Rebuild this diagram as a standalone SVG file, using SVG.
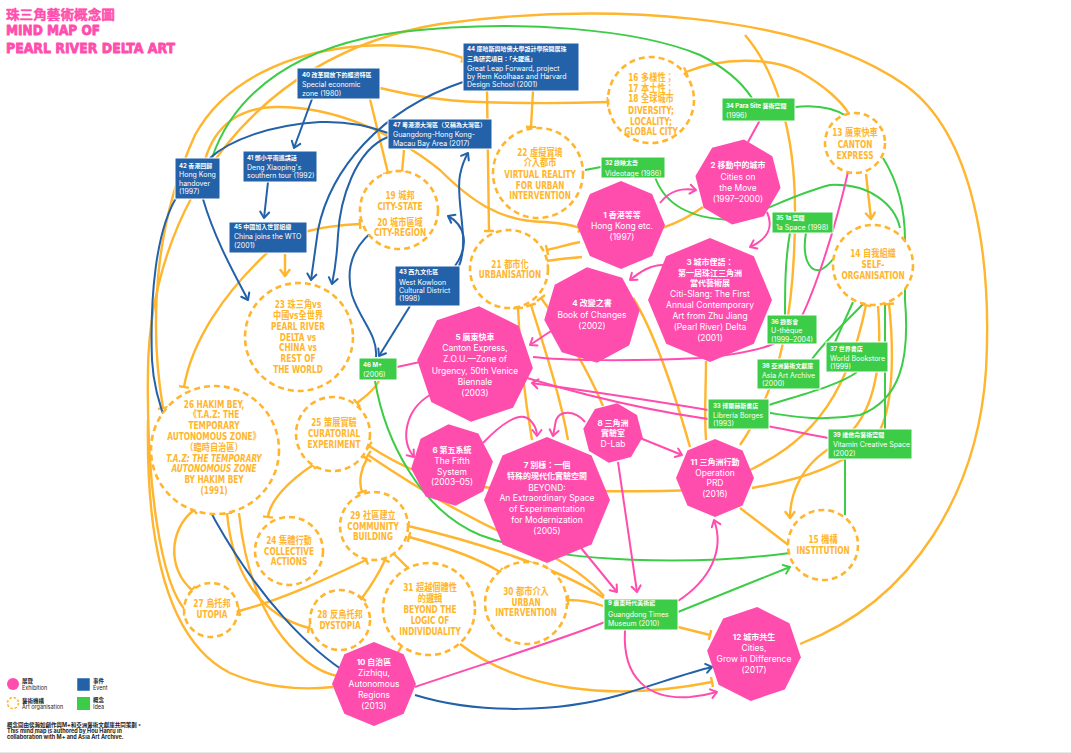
<svg xmlns="http://www.w3.org/2000/svg" width="1071" height="753" viewBox="0 0 1071 753">
<style>
.o{fill:none;stroke:#FFB52E;stroke-width:2.4}
.p{fill:none;stroke:#FF4DAE;stroke-width:2}
.b{fill:none;stroke:#2361A8;stroke-width:2}
.g{fill:none;stroke:#3DCC47;stroke-width:2}
.oc{fill:#fff;stroke:#FFB52E;stroke-width:2.6;stroke-dasharray:6 4}
.hx{fill:#FF4DAE}
.bb{fill:#2361A8;stroke:#fff;stroke-width:1}
.gb{fill:#3DCC47;stroke:#fff;stroke-width:1}
.pt{font-family:'Inter','Noto Sans CJK TC',sans-serif;font-size:8.5px;fill:#fff;text-anchor:middle}
.pt .h{font-size:8px;font-weight:bold}
.ot{font-family:'DejaVu Sans Condensed','DejaVu Sans','Noto Sans CJK TC',sans-serif;font-stretch:condensed;font-weight:bold;font-size:10px;fill:#FFB52E;text-anchor:middle}
.bt{font-family:'Inter','Noto Sans CJK TC',sans-serif;font-size:7px;fill:#fff}
.bt .h{font-size:6px;font-weight:bold}
.lg{font-family:'Inter','Noto Sans CJK TC',sans-serif;font-size:5.5px;fill:#222}
</style>
<defs>
<polygon id="oct" points="0,-1 0.707,-0.707 1,0 0.707,0.707 0,1 -0.707,0.707 -1,0 -0.707,-0.707"/>
<marker id="tb" viewBox="-2 -6 4 12" markerWidth="4" markerHeight="12" orient="auto" markerUnits="userSpaceOnUse"><path d="M0,-5V5" stroke="#FFB52E" stroke-width="2.4"/></marker>
<marker id="ao" viewBox="-8 -6 10 12" markerWidth="10" markerHeight="12" orient="auto" markerUnits="userSpaceOnUse"><path d="M-6,-4.5L0,0L-6,4.5" fill="none" stroke="#FFB52E" stroke-width="2.4" stroke-linecap="round" stroke-linejoin="round"/></marker>
<marker id="ap" viewBox="-8 -6 10 12" markerWidth="10" markerHeight="12" orient="auto" markerUnits="userSpaceOnUse"><path d="M-6,-4.5L0,0L-6,4.5" fill="none" stroke="#FF4DAE" stroke-width="2" stroke-linecap="round" stroke-linejoin="round"/></marker>
<marker id="ab" viewBox="-8 -6 10 12" markerWidth="10" markerHeight="12" orient="auto" markerUnits="userSpaceOnUse"><path d="M-6,-4.5L0,0L-6,4.5" fill="none" stroke="#2361A8" stroke-width="2" stroke-linecap="round" stroke-linejoin="round"/></marker>
<marker id="ag" viewBox="-8 -6 10 12" markerWidth="10" markerHeight="12" orient="auto" markerUnits="userSpaceOnUse"><path d="M-6,-4.5L0,0L-6,4.5" fill="none" stroke="#3DCC47" stroke-width="2" stroke-linecap="round" stroke-linejoin="round"/></marker>
</defs>
<rect width="1071" height="753" fill="#fff"/>
<line x1="0" y1="752.5" x2="1071" y2="752.5" stroke="#e8e8e8" stroke-width="1"/>

<g id="title" font-family="'DejaVu Sans Condensed','DejaVu Sans',sans-serif" font-weight="bold" fill="#FF4DAE" stroke="#FF4DAE" stroke-linejoin="round">
<text x="6" y="18.5" font-size="13" stroke-width="0.4" font-family="'Noto Sans CJK TC',sans-serif" textLength="109" lengthAdjust="spacingAndGlyphs">珠三角藝術概念圖</text>
<text x="6" y="35" font-size="14.5" stroke-width="0.8" textLength="94" lengthAdjust="spacingAndGlyphs">MIND MAP OF</text>
<text x="6" y="53" font-size="14.5" stroke-width="0.8" textLength="169" lengthAdjust="spacingAndGlyphs">PEARL RIVER DELTA ART</text>
</g>

<g id="connectors">
<g id="orange">
<path class="o" marker-start="url(#tb)" d="M187,612 C160,585 146,480 148,370 C150,210 250,55 440,24 C600,2 800,12 905,85 C975,135 992,260 986,370 C978,490 915,600 800,644"/>
<path class="o" d="M148,420 C146,540 165,640 230,673 C270,690 305,690 333,687"/>
<path class="o" marker-start="url(#tb)" marker-end="url(#tb)" d="M163,408 C150,330 152,230 195,135 C225,80 290,52 360,46 C410,43 440,50 463,58"/>
<path class="o" marker-end="url(#tb)" d="M205,160 C215,125 240,108 275,107 C330,106 390,130 440,170 C470,200 500,222 545,222 C560,223 572,225 580,228"/>
<path class="o" marker-start="url(#tb)" marker-end="url(#tb)" d="M360,224 C320,226 290,232 268,252 C225,292 192,340 184,387"/>
<path class="o" marker-end="url(#ao)" d="M285,254 L285,276"/>
<path class="o" marker-end="url(#tb)" d="M370,99 L388,173"/>
<path class="o" marker-end="url(#tb)" d="M404,150 L402,172"/>
<path class="o" marker-end="url(#tb)" d="M533,91 L531,127"/>
<path class="o" marker-end="url(#tb)" d="M487,91 L489,231"/>
<path class="o" marker-end="url(#tb)" d="M380,88 C410,95 440,101 480,102 C540,104 580,103 608,102"/>
<path class="o" marker-start="url(#tb)" d="M686,72 C720,58 770,56 800,72 C825,86 842,102 849,114"/>
<path class="o" d="M745,35 C775,70 795,130 795,210 C795,300 785,380 740,445"/>
<path class="o" marker-end="url(#ao)" d="M866,174 L871,219"/>
<path class="o" marker-start="url(#tb)" d="M547,250 C560,247 570,244 580,242"/>
<path class="o" marker-start="url(#tb)" d="M546,261 C560,259 570,258 582,257"/>
<path class="o" marker-start="url(#tb)" d="M518,308 C520,360 525,400 532,440"/>
<path class="o" marker-start="url(#tb)" d="M531,305 C545,350 560,395 568,440"/>
<path class="o" marker-start="url(#tb)" d="M541,298 C565,330 590,375 603,406"/>
<path class="o" d="M633,298 C650,325 668,370 690,447"/>
<path class="o" marker-start="url(#tb)" d="M369,446 C400,466 430,480 470,486 C530,492 640,492 700,490"/>
<path class="o" marker-end="url(#tb)" d="M750,470 C800,445 845,410 866,305"/>
<path class="o" marker-end="url(#tb)" d="M752,488 C800,480 850,465 880,430 C895,400 893,340 889,304"/>
<path class="o" marker-end="url(#ao)" d="M878,306 C884,380 868,425 835,445 C800,465 790,495 790,518"/>
<path class="o" marker-end="url(#tb)" d="M740,508 L791,547"/>
<path class="o" marker-end="url(#tb)" d="M678,627 L710,635"/>
<path class="o" marker-end="url(#tb)" d="M460,644 C520,690 610,702 712,682"/>
<path class="o" marker-end="url(#tb)" d="M603,606 C590,601 580,600 568,600"/>
<path class="o" marker-start="url(#tb)" d="M408,526 C470,540 560,568 604,598"/>
<path class="o" marker-start="url(#tb)" marker-end="url(#tb)" d="M409,537 C450,548 478,558 500,572"/>
<path class="o" marker-start="url(#tb)" marker-end="url(#tb)" d="M393,553 L411,571"/>
<path class="o" marker-start="url(#tb)" marker-end="url(#tb)" d="M385,560 C378,575 368,590 362,598"/>
<path class="o" marker-start="url(#tb)" marker-end="url(#tb)" d="M366,560 C320,582 280,600 239,611"/>
<path class="o" marker-start="url(#tb)" marker-end="url(#tb)" d="M362,492 C358,480 362,467 367,459"/>
<path class="o" marker-start="url(#tb)" marker-end="url(#tb)" d="M313,465 C290,480 270,500 268,517"/>
<path class="o" marker-start="url(#tb)" marker-end="url(#tb)" d="M194,510 C168,530 168,570 192,590"/>
<path class="o" marker-start="url(#tb)" marker-end="url(#tb)" d="M227,513 C232,570 258,615 309,628"/>
<path class="o" d="M239,513 C246,580 268,630 305,660 C340,688 382,680 402,646"/>
<path class="o" marker-start="url(#tb)" d="M368,455 C420,490 470,520 540,550 C570,565 590,580 604,596"/>
<path class="o" marker-end="url(#tb)" d="M379,381 C373,392 363,398 357,403"/>
<path class="o" d="M662,228 C680,222 692,215 703,207"/>
<path class="o" d="M706,361 C706,390 704,412 706,440"/>
</g>
<g id="green">
<path class="g" d="M212,158 C235,90 300,45 400,32 C520,18 640,30 700,55 C720,65 740,80 752,98"/>
<path class="g" d="M795,107 C815,105 835,108 848,117"/>
<path class="g" d="M883,158 C900,185 905,215 905,240 L905,300 C910,360 900,400 860,415 C820,422 790,416 770,413"/>
<path class="g" d="M655,177 C665,205 690,218 730,220 C760,215 790,195 830,185 C870,183 895,205 900,228"/>
<path class="g" d="M601,167 L585,170"/>
<path class="g" d="M806,233 C802,255 808,272 820,270 C826,268 830,263 834,258"/>
<path class="g" d="M790,233 C785,260 785,290 785,315"/>
<path class="g" d="M835,342 L853,302"/>
<path class="g" d="M812,359 C830,335 850,318 863,304"/>
<path class="g" d="M769,405 C800,395 840,385 857,372"/>
<path class="g" d="M885,429 L885,305"/>
<path class="g" d="M845,459 L845,515"/>
<path class="g" d="M375,381 C385,440 420,510 480,535 C560,565 700,565 790,553"/>
<path class="g" marker-end="url(#ag)" d="M678,612 L790,567"/>
</g>
<g id="blue">
<path class="b" marker-end="url(#ab)" d="M312,99 L294,148"/>
<path class="b" marker-end="url(#ab)" d="M268,182 L264,218"/>
<path class="b" marker-end="url(#ab)" d="M203,199 C215,240 235,275 248,300"/>
<path class="b" marker-end="url(#ab)" d="M463,82 C380,110 330,170 318,230 L311,280"/>
<path class="b" marker-end="url(#ab)" d="M388,137 C355,150 340,200 338,235 C337,255 335,270 332,284"/>
<path class="b" d="M210,158 C230,140 270,125 320,122 C350,121 375,128 388,133"/>
<path class="b" d="M178,195 C155,230 150,300 152,360 C155,420 190,470 215,520 C260,600 310,650 350,675"/>
<path class="b" marker-end="url(#ab)" d="M415,695 C480,715 560,712 620,695 C660,683 690,672 712,667"/>
<path class="b" marker-end="url(#ab)" d="M410,306 L379,356"/>
<path class="b" marker-end="url(#ab)" d="M455,266 C470,245 465,225 448,216"/>
<path class="b" marker-end="url(#ab)" d="M459,266 C470,240 455,200 460,175 C462,165 465,158 468,153"/>
<path class="b" d="M380,225 C360,240 343,260 352,295 C360,320 378,335 376,357"/>
</g>
<g id="pink">
<path class="p" marker-end="url(#ap)" d="M660,203 C670,190 682,188 696,190"/>
<path class="p" marker-end="url(#ap)" d="M767,212 C775,230 765,240 750,247"/>
<path class="p" marker-end="url(#ap)" d="M663,265 C650,265 640,272 630,280"/>
<path class="p" marker-end="url(#ap)" d="M551,331 L530,345"/>
<path class="p" marker-end="url(#ap)" d="M430,395 C405,410 400,440 414,457"/>
<path class="p" marker-end="url(#ap)" d="M483,443 C500,425 520,410 530,420 C536,426 537,432 537,436"/>
<path class="p" marker-end="url(#ap)" d="M585,422 C575,410 560,410 556,420 L553,436"/>
<path class="p" marker-end="url(#ap)" d="M640,438 L682,455"/>
<path class="p" marker-end="url(#ap)" d="M618,462 L637,592"/>
<path class="p" marker-end="url(#ap)" d="M577,543 L617,592"/>
<path class="p" marker-end="url(#ap)" d="M678,601 C710,580 725,550 714,520"/>
<path class="p" marker-end="url(#ap)" d="M625,630 C622,680 650,700 690,697 C700,696 710,694 717,692"/>
<path class="p" d="M415,687 C480,665 560,640 605,622"/>
<path class="p" marker-end="url(#ap)" d="M708,410 C650,400 580,390 532,383"/>
<path class="p" d="M527,378 C600,400 680,418 760,425 C790,430 810,435 828,438"/>
<path class="p" d="M848,172 C835,230 815,290 800,320 C790,340 770,352 700,358 C620,362 560,360 533,357"/>
<path class="p" d="M397,367 L420,362"/>
<path class="p" d="M760,120 L748,142"/>
</g>
</g>

<g id="exhibitions">
<g id="n1"><use href="#oct" class="hx" transform="translate(621,225) scale(44)"/><text class="pt"><tspan class="h" x="622" y="218">1 香港等等</tspan><tspan x="622" y="229">Hong Kong etc.</tspan><tspan x="622" y="240">(1997)</tspan></text></g>
<g id="n2"><use href="#oct" class="hx" transform="translate(738,182) rotate(8) scale(43)"/><text class="pt"><tspan class="h" x="738" y="168">2 移動中的城市</tspan><tspan x="738" y="180">Cities on</tspan><tspan x="738" y="191">the Move</tspan><tspan x="738" y="201.5">(1997–2000)</tspan></text></g>
<g id="n3"><use href="#oct" class="hx" transform="translate(710,300) scale(62)"/><text class="pt"><tspan class="h" x="710" y="265">3 城市俚語：</tspan><tspan class="h" x="710" y="275.5">第一屆珠江三角洲</tspan><tspan class="h" x="710" y="286">當代藝術展</tspan><tspan x="710" y="297">Citi-Slang: The First</tspan><tspan x="710" y="308">Annual Contemporary</tspan><tspan x="710" y="319">Art from Zhu Jiang</tspan><tspan x="710" y="330">(Pearl River) Delta</tspan><tspan x="710" y="340.5">(2001)</tspan></text></g>
<g id="n4"><use href="#oct" class="hx" transform="translate(592,315) rotate(-6) scale(48)"/><text class="pt"><tspan class="h" x="592" y="306">4 改變之書</tspan><tspan x="592" y="318">Book of Changes</tspan><tspan x="592" y="329">(2002)</tspan></text></g>
<g id="n5"><use href="#oct" class="hx" transform="translate(475,364) rotate(4) scale(58)"/><text class="pt"><tspan class="h" x="475" y="340">5 廣東快車</tspan><tspan x="475" y="351">Canton Express,</tspan><tspan x="475" y="362">Z.O.U.—Zone of</tspan><tspan x="475" y="374">Urgency, 50th Venice</tspan><tspan x="475" y="385">Biennale</tspan><tspan x="475" y="396">(2003)</tspan></text></g>
<g id="n6"><use href="#oct" class="hx" transform="translate(452,465) rotate(-5) scale(41)"/><text class="pt"><tspan class="h" x="452" y="453">6 第五系統</tspan><tspan x="452" y="464">The Fifth</tspan><tspan x="452" y="475">System</tspan><tspan x="452" y="485">(2003–05)</tspan></text></g>
<g id="n7"><use href="#oct" class="hx" transform="translate(547,500) scale(63)"/><text class="pt"><tspan class="h" x="547" y="468">7 別樣：一個</tspan><tspan class="h" x="547" y="479">特殊的現代化實驗空間</tspan><tspan x="547" y="491">BEYOND:</tspan><tspan x="547" y="501">An Extraordinary Space</tspan><tspan x="547" y="512">of Experimentation</tspan><tspan x="547" y="523">for Modernization</tspan><tspan x="547" y="534">(2005)</tspan></text></g>
<g id="n8"><use href="#oct" class="hx" transform="translate(613,433) rotate(8) scale(30)"/><text class="pt"><tspan class="h" x="613" y="426">8 三角洲</tspan><tspan class="h" x="613" y="436">實驗室</tspan><tspan x="613" y="447">D-Lab</tspan></text></g>
<g id="n11"><use href="#oct" class="hx" transform="translate(715,478) scale(39)"/><text class="pt"><tspan class="h" x="715" y="465">11 三角洲行動</tspan><tspan x="715" y="476">Operation</tspan><tspan x="715" y="486">PRD</tspan><tspan x="715" y="497">(2016)</tspan></text></g>
<g id="n10"><use href="#oct" class="hx" transform="translate(374,684) scale(42)"/><text class="pt"><tspan class="h" x="374" y="665">10 自治區</tspan><tspan x="374" y="676">Zizhiqu,</tspan><tspan x="374" y="687">Autonomous</tspan><tspan x="374" y="698">Regions</tspan><tspan x="374" y="709">(2013)</tspan></text></g>
<g id="n12"><use href="#oct" class="hx" transform="translate(754,654) rotate(4) scale(47)"/><text class="pt"><tspan class="h" x="754" y="640">12 城市共生</tspan><tspan x="754" y="651">Cities,</tspan><tspan x="754" y="662">Grow in Difference</tspan><tspan x="754" y="673">(2017)</tspan></text></g>
</g>

<g id="ideas">
<g id="n13"><circle class="oc" cx="855" cy="143" r="30"/><text class="ot" transform="translate(855,0) scale(0.82,1)"><tspan x="0" y="136.5">13 廣東快車</tspan><tspan x="0" y="148.5">CANTON</tspan><tspan x="0" y="159.5">EXPRESS</tspan></text></g>
<g id="n14"><circle class="oc" cx="873" cy="265" r="40"/><text class="ot" transform="translate(873,0) scale(0.82,1)"><tspan x="0" y="257.5">14 自我組織</tspan><tspan x="0" y="268.5">SELF-</tspan><tspan x="0" y="279.5">ORGANISATION</tspan></text></g>
<g id="n15"><circle class="oc" cx="823" cy="545" r="35"/><text class="ot" transform="translate(823,0) scale(0.82,1)"><tspan x="0" y="543.5">15 機構</tspan><tspan x="0" y="554.5">INSTITUTION</tspan></text></g>
<g id="n16"><circle class="oc" cx="651" cy="100" r="43"/><text class="ot" transform="translate(651,0) scale(0.82,1)"><tspan x="0" y="81.5">16 多樣性；</tspan><tspan x="0" y="92.5">17 本土性；</tspan><tspan x="0" y="102.5">18 全球城市</tspan><tspan x="0" y="114.5">DIVERSITY;</tspan><tspan x="0" y="125.5">LOCALITY;</tspan><tspan x="0" y="135.5">GLOBAL CITY</tspan></text></g>
<g id="n19"><circle class="oc" cx="399" cy="210" r="39"/><text class="ot" transform="translate(400,0) scale(0.82,1)"><tspan x="0" y="199.5">19 城邦</tspan><tspan x="0" y="210.5">CITY-STATE</tspan><tspan x="0" y="226.5">20 城市區域</tspan><tspan x="0" y="236.5">CITY-REGION</tspan></text></g>
<g id="n21"><circle class="oc" cx="509" cy="269" r="39"/><text class="ot" transform="translate(510,0) scale(0.82,1)"><tspan x="0" y="268.5">21 都市化</tspan><tspan x="0" y="278.5">URBANISATION</tspan></text></g>
<g id="n22"><circle class="oc" cx="538" cy="173" r="45"/><text class="ot" transform="translate(540,0) scale(0.82,1)"><tspan x="0" y="156.5">22 虛擬實境</tspan><tspan x="0" y="166.5">介入都市</tspan><tspan x="0" y="178.5">VIRTUAL REALITY</tspan><tspan x="0" y="189.5">FOR URBAN</tspan><tspan x="0" y="199.5">INTERVENTION</tspan></text></g>
<g id="n23"><circle class="oc" cx="299" cy="337" r="54"/><text class="ot" transform="translate(298,0) scale(0.82,1)"><tspan x="0" y="308.5">23 珠三角vs</tspan><tspan x="0" y="319.5">中國vs全世界</tspan><tspan x="0" y="330.5">PEARL RIVER</tspan><tspan x="0" y="341.5">DELTA vs</tspan><tspan x="0" y="351.5">CHINA vs</tspan><tspan x="0" y="362.5">REST OF</tspan><tspan x="0" y="373.5">THE WORLD</tspan></text></g>
<g id="n24"><circle class="oc" cx="289" cy="551" r="34"/><text class="ot" transform="translate(289,0) scale(0.82,1)"><tspan x="0" y="544.5">24 集體行動</tspan><tspan x="0" y="555.5">COLLECTIVE</tspan><tspan x="0" y="565.5">ACTIONS</tspan></text></g>
<g id="n25"><circle class="oc" cx="333" cy="434" r="37"/><text class="ot" transform="translate(334,0) scale(0.82,1)"><tspan x="0" y="426.5">25 策展實驗</tspan><tspan x="0" y="437.5">CURATORIAL</tspan><tspan x="0" y="448.5">EXPERIMENT</tspan></text></g>
<g id="n26"><circle class="oc" cx="215" cy="450" r="64"/><text class="ot" transform="translate(214,0) scale(0.82,1)"><tspan x="0" y="408.5">26 HAKIM BEY,</tspan><tspan x="0" y="418.5">《T.A.Z: THE</tspan><tspan x="0" y="429.5">TEMPORARY</tspan><tspan x="0" y="440.5">AUTONOMOUS ZONE》</tspan><tspan x="0" y="451.5">（臨時自治區）</tspan><tspan x="0" y="462.5" font-style="italic">T.A.Z: THE TEMPORARY</tspan><tspan x="0" y="472.5" font-style="italic">AUTONOMOUS ZONE</tspan><tspan x="0" y="483.5">BY HAKIM BEY</tspan><tspan x="0" y="494.5">(1991)</tspan></text></g>
<g id="n27"><circle class="oc" cx="211" cy="610" r="27"/><text class="ot" transform="translate(212,0) scale(0.82,1)"><tspan x="0" y="607.5">27 烏托邦</tspan><tspan x="0" y="618.5">UTOPIA</tspan></text></g>
<g id="n28"><circle class="oc" cx="340" cy="620" r="30"/><text class="ot" transform="translate(340,0) scale(0.82,1)"><tspan x="0" y="618.5">28 反烏托邦</tspan><tspan x="0" y="629.5">DYSTOPIA</tspan></text></g>
<g id="n29"><circle class="oc" cx="374" cy="526" r="34"/><text class="ot" transform="translate(373,0) scale(0.82,1)"><tspan x="0" y="519.5">29 社區建立</tspan><tspan x="0" y="530.5">COMMUNITY</tspan><tspan x="0" y="540.5">BUILDING</tspan></text></g>
<g id="n30"><circle class="oc" cx="526" cy="603" r="41"/><text class="ot" transform="translate(526,0) scale(0.82,1)"><tspan x="0" y="595.5">30 都市介入</tspan><tspan x="0" y="606.5">URBAN</tspan><tspan x="0" y="616.5">INTERVENTION</tspan></text></g>
<g id="n31"><circle class="oc" cx="429" cy="609" r="46"/><text class="ot" transform="translate(430,0) scale(0.82,1)"><tspan x="0" y="591.5">31 超越個體性</tspan><tspan x="0" y="602.5">的邏輯</tspan><tspan x="0" y="613.5">BEYOND THE</tspan><tspan x="0" y="624.5">LOGIC OF</tspan><tspan x="0" y="635.5">INDIVIDUALITY</tspan></text></g>
</g>

<g id="events">
<g id="n40"><rect class="bb" x="297" y="68" width="83" height="31"/><text class="bt"><tspan class="h" x="302" y="77.2">40 改革開放下的經濟特區</tspan><tspan x="302" y="86.5">Special economic</tspan><tspan x="302" y="95.5">zone (1980)</tspan></text></g>
<g id="n41"><rect class="bb" x="243" y="151" width="74" height="31"/><text class="bt"><tspan class="h" x="247" y="160.2">41 鄧小平南巡講話</tspan><tspan x="247" y="169.5">Deng Xiaoping's</tspan><tspan x="247" y="177.5">southern tour (1992)</tspan></text></g>
<g id="n42"><rect class="bb" x="175" y="158" width="45" height="41"/><text class="bt"><tspan class="h" x="179" y="168.2">42 香港回歸</tspan><tspan x="179" y="176.5">Hong Kong</tspan><tspan x="179" y="185.5">handover</tspan><tspan x="179" y="193.5">(1997)</tspan></text></g>
<g id="n45"><rect class="bb" x="229" y="222" width="78" height="31"/><text class="bt"><tspan class="h" x="234" y="229.2">45 中國加入世貿組織</tspan><tspan x="234" y="238.5">China joins the WTO</tspan><tspan x="234" y="247.5">(2001)</tspan></text></g>
<g id="n47"><rect class="bb" x="388" y="119" width="104" height="30"/><text class="bt"><tspan class="h" x="393" y="127.2">47 粵港澳大灣區（又稱為大灣區）</tspan><tspan x="393" y="136.5">Guangdong-Hong Kong-</tspan><tspan x="393" y="145.5">Macau Bay Area (2017)</tspan></text></g>
<g id="n44"><rect class="bb" x="463" y="43" width="116" height="48"/><text class="bt"><tspan class="h" x="467" y="51.2">44 庫哈斯與哈佛大學設計學院開展珠</tspan><tspan class="h" x="467" y="61.2">三角研究項目：「大躍進」</tspan><tspan x="467" y="70.5">Great Leap Forward, project</tspan><tspan x="467" y="78.5">by Rem Koolhaas and Harvard</tspan><tspan x="467" y="86.5">Design School (2001)</tspan></text></g>
<g id="n43"><rect class="bb" x="395" y="266" width="65" height="40"/><text class="bt"><tspan class="h" x="399" y="274.2">43 西九文化區</tspan><tspan x="399" y="284.5">West Kowloon</tspan><tspan x="399" y="292.5">Cultural District</tspan><tspan x="399" y="300.5">(1998)</tspan></text></g>
</g>

<g id="organisations">
<g id="n32"><rect class="gb" x="601" y="157" width="64" height="21"/><text class="bt"><tspan class="h" x="605" y="165.2">32 錄映太奇</tspan><tspan x="605" y="175.5">Videotage (1986)</tspan></text></g>
<g id="n34"><rect class="gb" x="722" y="98" width="73" height="23"/><text class="bt"><tspan class="h" x="726" y="108.2">34 Para Site 藝術空間</tspan><tspan x="726" y="117.5">(1996)</tspan></text></g>
<g id="n35"><rect class="gb" x="772" y="212" width="61" height="21"/><text class="bt"><tspan class="h" x="776" y="220.2">35 1a 空間</tspan><tspan x="776" y="229.5">1a Space (1998)</tspan></text></g>
<g id="n36"><rect class="gb" x="767" y="315" width="50" height="29"/><text class="bt"><tspan class="h" x="771" y="324.2">36 錄影會</tspan><tspan x="771" y="332.5">U-thèque</tspan><tspan x="771" y="341.5">(1999–2004)</tspan></text></g>
<g id="n37"><rect class="gb" x="826" y="342" width="62" height="30"/><text class="bt"><tspan class="h" x="830" y="351.2">37 世界書店</tspan><tspan x="830" y="360.5">World Bookstore</tspan><tspan x="830" y="368.5">(1999)</tspan></text></g>
<g id="n38"><rect class="gb" x="757" y="359" width="63" height="30"/><text class="bt"><tspan class="h" x="762" y="368.2">38 亞洲藝術文獻庫</tspan><tspan x="762" y="377.5">Asia Art Archive</tspan><tspan x="762" y="385.5">(2000)</tspan></text></g>
<g id="n33"><rect class="gb" x="708" y="399" width="61" height="30"/><text class="bt"><tspan class="h" x="713" y="408.2">33 博爾赫斯書店</tspan><tspan x="713" y="417.5">Libreria Borges</tspan><tspan x="713" y="425.5">(1993)</tspan></text></g>
<g id="n39"><rect class="gb" x="828" y="429" width="84" height="30"/><text class="bt"><tspan class="h" x="833" y="437.2">39 維他命藝術空間</tspan><tspan x="833" y="446.5">Vitamin Creative Space</tspan><tspan x="833" y="455.5">(2002)</tspan></text></g>
<g id="n46"><rect class="gb" x="359" y="358" width="38" height="22"/><text class="bt"><tspan class="h" x="363" y="367.2">46 M+</tspan><tspan x="363" y="376.5">(2006)</tspan></text></g>
<g id="n9"><rect class="gb" x="604" y="599" width="74" height="31"/><text class="bt"><tspan class="h" x="608" y="605.2">9 廣東時代美術館</tspan><tspan x="608" y="616.5">Guangdong Times</tspan><tspan x="608" y="625.5">Museum (2010)</tspan></text></g>
</g>

<g id="legend">
<circle cx="13" cy="684" r="6" fill="#FF4DAE"/>
<text class="lg"><tspan x="22" y="683" font-weight="bold">展覽</tspan><tspan x="22" y="689.5">Exhibition</tspan></text>
<rect x="77" y="678" width="13" height="13" fill="#2361A8" stroke="#fff" stroke-width="0.5"/>
<text class="lg"><tspan x="93" y="683" font-weight="bold">事件</tspan><tspan x="93" y="689.5">Event</tspan></text>
<circle cx="13" cy="703" r="5.5" fill="#fff" stroke="#FFB52E" stroke-width="1.6" stroke-dasharray="2.5 1.8"/>
<text class="lg"><tspan x="22" y="703" font-weight="bold">藝術機構</tspan><tspan x="22" y="708.5">Art organisation</tspan></text>
<rect x="77" y="697" width="13" height="13" fill="#3DCC47"/>
<text class="lg"><tspan x="93" y="702" font-weight="bold">概念</tspan><tspan x="93" y="708.5">Idea</tspan></text>
<text class="lg" font-weight="bold"><tspan x="7" y="726.5">概念圖由侯瀚如創作與M+和亞洲藝術文獻庫共同策劃。</tspan><tspan x="7" y="732.5">This mind map is authored by Hou Hanru in</tspan><tspan x="7" y="739">collaboration with M+ and Asia Art Archive.</tspan></text>
</g>
</svg>
